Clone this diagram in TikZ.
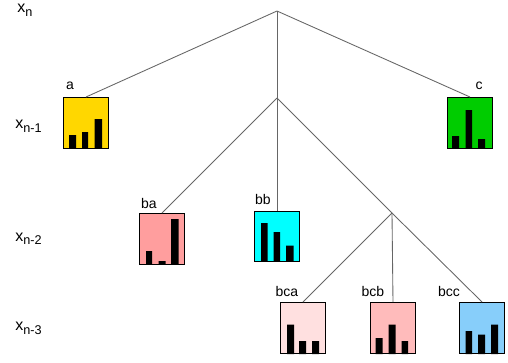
\documentclass[tikz,border=0pt]{standalone}
\usepackage{fontspec}
\setmainfont{Liberation Sans}
\definecolor{cgold}{RGB}{255,215,0}
\definecolor{cgreen}{RGB}{0,204,0}
\definecolor{csalmon}{RGB}{255,158,158}
\definecolor{ccyan}{RGB}{0,255,255}
\definecolor{cpale}{RGB}{255,224,224}
\definecolor{cpink}{RGB}{255,187,187}
\definecolor{csky}{RGB}{135,206,250}
% level variable with a fairly large lowered index
\newcommand\levelvar[1]{x\raisebox{-0.45ex}{\fontsize{9.5}{11}\selectfont #1}}
\begin{document}
\begin{tikzpicture}[x=0.75pt,y=-0.75pt,
  hbox/.style={draw=black,line width=0.75pt,inner sep=0,anchor=north west,
    minimum width=33.75pt,minimum height=38.25pt},
  edge/.style={draw=black!60,line width=0.65pt},
  lbl/.style={font=\fontsize{10.5}{12}\selectfont,inner sep=0},
  lvl/.style={font=\fontsize{12}{14}\selectfont,inner sep=0,anchor=base west}]
\useasboundingbox (0,0) rectangle (508,362);

% level labels
\node[lvl] (l0) at (17,12.5) {\levelvar{n}};
\node[lvl] (l1) at (15,128.5) {\levelvar{n-1}};
\node[lvl] (l2) at (15,241) {\levelvar{n-2}};
\node[lvl] (l3) at (15,330.5) {\levelvar{n-3}};

% histogram boxes
\node[hbox,fill=cgold]   (a)   at (63,97)  {};
\node[hbox,fill=cgreen]  (c)   at (447,97) {};
\node[hbox,fill=csalmon] (ba)  at (139,213) {};
\node[hbox,fill=ccyan,minimum height=37.5pt] (bb) at (254,211) {};
\node[hbox,fill=cpale]   (bca) at (280,302) {};
\node[hbox,fill=cpink]   (bcb) at (370,302) {};
\node[hbox,fill=csky]    (bcc) at (459,302) {};

% bars
\fill (69,148) rectangle (76,135) (82,148) rectangle (88,132) (94.5,148) rectangle (102,119);
\fill (452,148) rectangle (459,136) (465.5,148) rectangle (472,110) (478,148) rectangle (485,139);
\fill (146,264) rectangle (152,251) (158.5,264) rectangle (165.5,261) (171,264) rectangle (178.5,219);
\fill (261,261) rectangle (267.5,223) (273.5,261) rectangle (280,232) (286,261) rectangle (293.5,245.5);
\fill (287,354) rectangle (294,324.5) (299,354) rectangle (306,341) (312,354) rectangle (319,341);
\fill (375.5,354) rectangle (382.5,338) (388.5,354) rectangle (395.5,324.5) (401.5,354) rectangle (408,341);
\fill (465.5,354) rectangle (472,331) (478,354) rectangle (485,334.5) (491,354) rectangle (498,324.5);

% box labels
\node[lbl] (ta)   at (70,86)  {a};
\node[lbl] (tc)   at (479,86) {c};
\node[lbl] (tba)  at (149,203) {ba};
\node[lbl] (tbb)  at (263,199) {bb};
\node[lbl] (tbca) at (287,291) {bca};
\node[lbl] (tbcb) at (373,291) {bcb};
\node[lbl] (tbcc) at (449,291) {bcc};

% tree
\coordinate (r)  at (277,11);
\coordinate (b)  at (277,98);
\coordinate (bc) at (392,213);
\draw[edge] (r) -- (a.north);
\draw[edge] (r) -- (b);
\draw[edge] (r) -- (c.north);
\draw[edge] (b) -- (ba.north);
\draw[edge] (b) -- (bb.north);
\draw[edge] (b) -- (bc);
\draw[edge] (bc) -- (bca.north);
\draw[edge] (bc) -- (bcb.north);
\draw[edge] (bc) -- (bcc.north);
\end{tikzpicture}
\end{document}
